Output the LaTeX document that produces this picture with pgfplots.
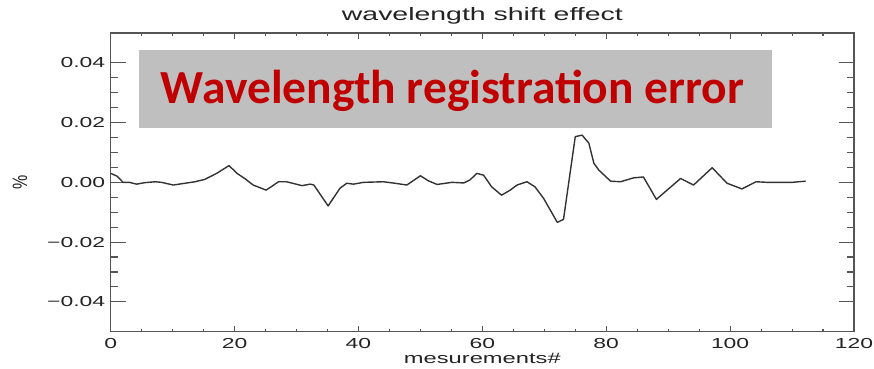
\documentclass[border=0pt]{standalone}
\usepackage{pgfplots}
\pgfplotsset{compat=1.18}
\usepackage{fontspec}
\setmainfont{Liberation Sans}
\newfontfamily\calib{Carlito}
\definecolor{redtxt}{RGB}{192,0,0}
\definecolor{boxgray}{RGB}{191,191,191}
\definecolor{axgray}{RGB}{85,85,85}
\definecolor{txtgray}{RGB}{35,35,35}
\begin{document}
\begin{tikzpicture}
\useasboundingbox (-110.7bp,-37.3bp) rectangle (763.3bp,331.7bp);
\begin{axis}[
  at={(0,0)}, anchor=south west,
  scale only axis,
  width=743.3bp, height=298.7bp,
  xmin=0, xmax=120, ymin=-0.05, ymax=0.05,
  scaled y ticks=false, scaled x ticks=false,
  xtick={0,20,40,60,80,100,120},
  xticklabels={0,20,40,60,80,100,120},
  ytick={-0.04,-0.02,0,0.02,0.04},
  yticklabels={−0.04,−0.02,0.00,0.02,0.04},
  minor x tick num=3, minor y tick num=3,
  tick align=inside,
  axis line style={axgray, line width=1.2bp},
  xtick style={axgray, line width=1.1bp, /pgfplots/major tick length=6bp, /pgfplots/minor tick length=3bp},
  ytick style={axgray, line width=1.1bp, /pgfplots/major tick length=15bp, /pgfplots/minor tick length=7.5bp},
  tick label style={font=\fontsize{14.5bp}{16bp}\selectfont, text=txtgray, xscale=1.58},
  xticklabel style={yshift=-3.6bp},
  title={wavelength shift effect},
  title style={at={(axis description cs:0.5,1)}, anchor=base, yshift=7bp, font=\fontsize{18bp}{20bp}\selectfont, text=txtgray, xscale=1.58},
  xlabel={mesurements\#},
  xlabel style={at={(axis description cs:0.5,-0.108)}, anchor=base, font=\fontsize{15bp}{17bp}\selectfont, text=txtgray, xscale=1.58},
  ylabel={\%},
  ylabel style={at={(axis description cs:-0.122,0.5)}, anchor=center, font=\fontsize{16bp}{18bp}\selectfont, text=txtgray, yscale=1.3},
  clip=false,
]
\fill[boxgray] (axis cs:4.57,0.0443) rectangle (axis cs:106.8,0.0183);
\node[anchor=base, text=redtxt, font=\calib\bfseries\fontsize{47.5bp}{50bp}\selectfont] at (axis cs:55.2,0.0264) {Wavelength registration error};
\addplot[black!80, line width=1.4bp, line join=round] coordinates {
(0,0.0030) (1,0.0021) (2,0.0000) (3,0.0000) (4.2,-0.0006) (5.5,-0.0001)
(7.2,0.0002) (8.2,0.0000) (10.1,-0.0009) (12,-0.0003) (13.6,0.0002)
(15.2,0.0010) (17.1,0.0030) (19.1,0.0056) (20.4,0.0030) (21.7,0.0012)
(23,-0.0009) (25.1,-0.0026) (27.1,0.0002) (28.4,0.0002) (30.9,-0.0011)
(32.2,-0.0006) (32.8,-0.0009) (35.1,-0.0079) (37,-0.0020) (38.1,-0.0003)
(39.2,-0.0006) (40.8,0.0000) (44,0.0002) (45.9,-0.0003) (47.8,-0.0009)
(50,0.0022) (51.3,0.0005) (52.7,-0.0007) (55.1,0.0000) (57,-0.0002)
(58,0.0008) (59.1,0.0030) (60.2,0.0024) (61.5,-0.0015) (63.1,-0.0043)
(64.5,-0.0026) (65.6,-0.0009) (67.2,0.0002) (68.5,-0.0015) (69.9,-0.0054)
(72.1,-0.0134) (73.1,-0.0124) (75,0.0153) (76.1,0.0158) (77.2,0.0131)
(78,0.0064) (78.8,0.0041) (80.7,0.0004) (82.3,0.0002) (84.4,0.0015)
(86,0.0018) (88.1,-0.0057) (92,0.0013) (94.1,-0.0009) (97.1,0.0049)
(99.5,-0.0003) (101.9,-0.0022) (104.2,0.0002) (106,0.0000) (108,0.0000)
(110,0.0000) (112.2,0.0004)
};
\end{axis}
\end{tikzpicture}
\end{document}
